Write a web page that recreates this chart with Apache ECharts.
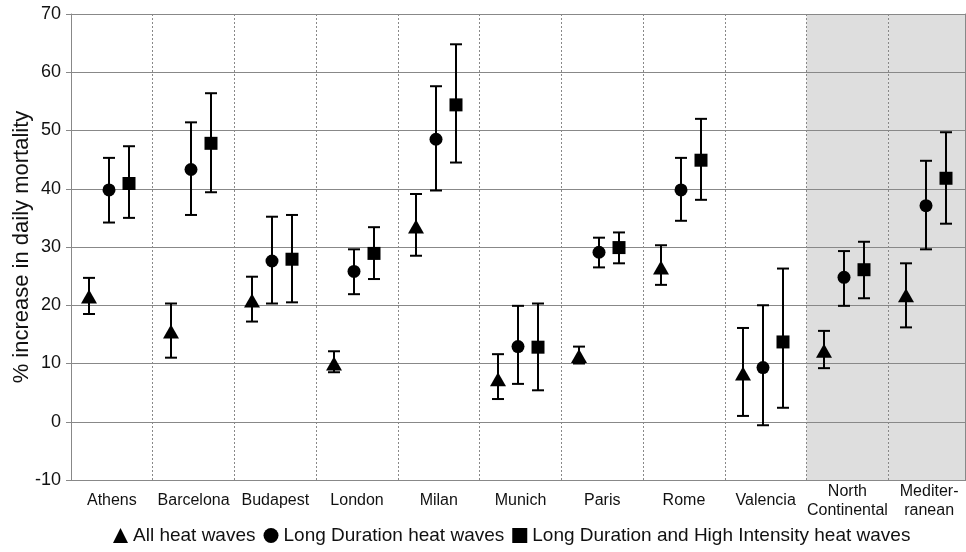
<!DOCTYPE html>
<html><head><meta charset="utf-8">
<script src="https://cdn.jsdelivr.net/npm/echarts@6/dist/echarts.min.js"></script>
<style>html,body{margin:0;padding:0;background:#fff}#c{width:966px;height:552px}</style>
</head><body><div id="c"></div>
<script>
const categories = ['Athens','Barcelona','Budapest','London','Milan','Munich','Paris','Rome','Valencia','North\nContinental','Mediter-\nranean'];
const yMin = -10, yMax = 70, yInterval = 10;
const seriesNames = ['All heat waves','Long Duration heat waves','Long Duration and High Intensity heat waves'];
const allValue = [21.5,15.5,20.8,10.0,33.5,7.3,11.3,26.5,8.3,12.2,21.7];
const allLow   = [18.5,11.0,17.2,8.5,28.5,3.9,10.0,23.5,1.0,9.2,16.2];
const allHigh  = [24.7,20.3,24.9,12.1,39.1,11.6,12.9,30.3,16.1,15.6,27.2];
const longValue = [39.8,43.3,27.6,25.8,48.5,12.9,29.1,39.8,9.3,24.8,37.1];
const longLow   = [34.2,35.5,20.3,21.9,39.7,6.5,26.5,34.5,-0.6,19.9,29.6];
const longHigh  = [45.3,51.4,35.2,29.6,57.6,19.9,31.6,45.3,20.0,29.3,44.8];
const intValue = [40.9,47.8,27.9,28.9,54.4,12.8,29.9,44.9,13.7,26.1,41.8];
const intLow   = [35.0,39.4,20.5,24.5,44.5,5.4,27.2,38.1,2.4,21.2,34.0];
const intHigh  = [47.3,56.4,35.5,33.4,64.8,20.3,32.5,52.0,26.3,30.9,49.7];
const regionCategories = [9, 10];

const FONT = "'Liberation Sans', Arial, sans-serif";
function rows(v, lo, hi) { return v.map((d, i) => [i, d, lo[i], hi[i]]); }

function makeRender(shape, dx) {
  return function (params, api) {
    const i = api.value(0);
    const c = api.coord([i, api.value(1)]);
    const lo = api.coord([i, api.value(2)]);
    const hi = api.coord([i, api.value(3)]);
    const x = Math.round(c[0] + dx);
    const y = c[1];
    const cap = 6;
    const st = { stroke: '#000', lineWidth: 2 };
    const children = [
      { type: 'line', shape: { x1: x, y1: lo[1], x2: x, y2: hi[1] }, style: st },
      { type: 'line', shape: { x1: x - cap, y1: hi[1], x2: x + cap, y2: hi[1] }, style: st },
      { type: 'line', shape: { x1: x - cap, y1: lo[1], x2: x + cap, y2: lo[1] }, style: st }
    ];
    if (shape === 'triangle') {
      children.push({ type: 'polygon', shape: { points: [[x, y - 7], [x + 8, y + 7], [x - 8, y + 7]] }, style: { fill: '#000' } });
    } else if (shape === 'circle') {
      children.push({ type: 'circle', shape: { cx: x, cy: y, r: 6.5 }, style: { fill: '#000' } });
    } else {
      children.push({ type: 'rect', shape: { x: x - 6.5, y: y - 6.5, width: 13, height: 13 }, style: { fill: '#000' } });
    }
    return { type: 'group', children };
  };
}

function renderShade(params, api) {
  const i = api.value(0);
  const w = api.size([1, 0])[0];
  const top = api.coord([i, yMax]);
  const bot = api.coord([i, yMin]);
  return { type: 'rect', shape: { x: top[0] - w / 2, y: top[1], width: w, height: bot[1] - top[1] }, style: { fill: '#dedede' } };
}

const chart = echarts.init(document.getElementById('c'));
chart.setOption({
  animation: false,
  textStyle: { fontFamily: FONT },
  grid: { left: 71, right: -4, top: 14, bottom: 72, containLabel: false, outerBoundsMode: 'none' },
  legend: {
    data: [
      { name: seriesNames[0], icon: 'triangle' },
      { name: seriesNames[1], icon: 'circle' },
      { name: seriesNames[2], icon: 'rect' }
    ],
    left: 108, bottom: 2,
    itemWidth: 15, itemHeight: 15, itemGap: 8,
    textStyle: { fontSize: 19, color: '#111', fontFamily: FONT }
  },
  xAxis: {
    type: 'category', data: categories,
    axisLine: { show: true, lineStyle: { color: '#888', width: 1 } },
    axisTick: { show: false },
    axisLabel: { interval: 0, fontSize: 16, color: '#111', lineHeight: 19, margin: 21, verticalAlign: 'middle', fontFamily: FONT },
    splitLine: { show: true, interval: 0, lineStyle: { color: '#888', type: [2, 2], width: 1 } }
  },
  yAxis: [{
    type: 'value', min: yMin, max: yMax, interval: yInterval,
    name: '% increase in daily mortality', nameLocation: 'middle', nameGap: 38, nameMoveOverlap: false,
    nameTextStyle: { fontSize: 22, color: '#111', fontFamily: FONT },
    axisLine: { show: true, lineStyle: { color: '#888', width: 1 } },
    axisTick: { show: true, length: 5, lineStyle: { color: '#888' } },
    axisLabel: { fontSize: 18, color: '#111', margin: 10, fontFamily: FONT },
    splitLine: { show: true, lineStyle: { color: '#888', width: 1 } }
  }, {
    type: 'value', min: yMin, max: yMax, interval: yInterval, position: 'right', offset: -5,
    axisLine: { show: true, lineStyle: { color: '#888', width: 1 } },
    axisTick: { show: false }, axisLabel: { show: false }, splitLine: { show: false }
  }],
  series: [
    { type: 'custom', name: 'regions', z: -1, silent: true, renderItem: renderShade, data: regionCategories.map(i => [i]), encode: { x: 0 } },
    { type: 'custom', name: seriesNames[0], itemStyle: { color: '#000' }, renderItem: makeRender('triangle', -23), data: rows(allValue, allLow, allHigh), encode: { x: 0, y: 1 } },
    { type: 'custom', name: seriesNames[1], itemStyle: { color: '#000' }, renderItem: makeRender('circle', -3), data: rows(longValue, longLow, longHigh), encode: { x: 0, y: 1 } },
    { type: 'custom', name: seriesNames[2], itemStyle: { color: '#000' }, renderItem: makeRender('rect', 17), data: rows(intValue, intLow, intHigh), encode: { x: 0, y: 1 } }
  ]
});
</script></body></html>
